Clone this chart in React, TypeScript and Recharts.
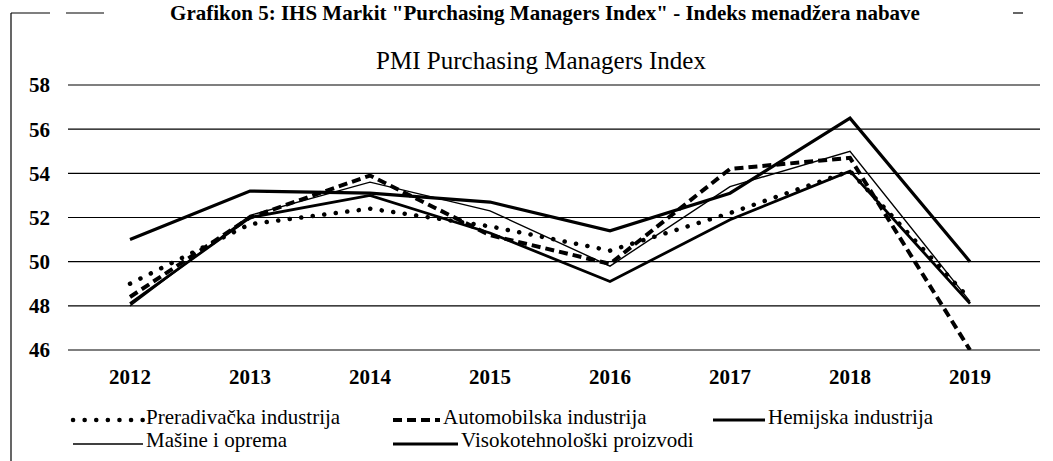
import React from 'react';
import { LineChart, Line, XAxis, YAxis, CartesianGrid } from 'recharts';

const years = ['2012', '2013', '2014', '2015', '2016', '2017', '2018', '2019'];
const preradivacka = [49.0, 51.7, 52.4, 51.6, 50.5, 52.2, 54.1, 48.3];
const automobilska = [48.4, 52.0, 53.9, 51.2, 49.9, 54.2, 54.7, 46.0];
const hemijska = [48.1, 52.0, 53.0, 51.3, 49.1, 51.9, 54.1, 48.1];
const masine = [48.0, 52.1, 53.6, 52.3, 49.8, 53.4, 55.0, 48.2];
const visokotehnoloski = [51.0, 53.2, 53.1, 52.7, 51.4, 53.1, 56.5, 50.0];
const yTicks = [46, 48, 50, 52, 54, 56, 58];
const seriesNames = [
  'Preradivačka industrija',
  'Automobilska industrija',
  'Hemijska industrija',
  'Mašine i oprema',
  'Visokotehnološki proizvodi',
];
const chartTitle = 'PMI Purchasing Managers Index';
const figureTitle = 'Grafikon 5: IHS Markit "Purchasing Managers Index" - Indeks menadžera nabave';

const data = years.map((year, i) => ({
  year,
  p: preradivacka[i],
  a: automobilska[i],
  h: hemijska[i],
  m: masine[i],
  v: visokotehnoloski[i],
}));

const FONT = '"Liberation Serif", "Times New Roman", serif';

type StyleDef = { key: string; width: number; dash?: string; cap: 'round' | 'butt' };
const styles: StyleDef[] = [
  { key: 'p', width: 4.5, dash: '0.1 11.5', cap: 'round' },
  { key: 'a', width: 4, dash: '9 5', cap: 'butt' },
  { key: 'h', width: 2.8, cap: 'butt' },
  { key: 'm', width: 1.4, cap: 'butt' },
  { key: 'v', width: 3.2, cap: 'butt' },
];

// legend layout: [swatchStart, swatchEnd, textStart, rowIndex]
const legendLayout: [number, number, number, number][] = [
  [73, 143, 146, 0],
  [393, 440, 443, 0],
  [713, 765, 768, 0],
  [73, 143, 146, 1],
  [393, 458, 461, 1],
];
const rowLineY = [420, 444];
const rowTextTop = [407, 430];

export default function App() {
  return (
    <div
      style={{
        position: 'absolute',
        left: 0,
        top: 0,
        width: 1053,
        height: 461,
        overflow: 'hidden',
        background: '#fff',
        fontFamily: FONT,
        color: '#000',
      }}
    >
      <div
        style={{
          position: 'absolute',
          top: 1,
          left: 545,
          transform: 'translateX(-50%)',
          whiteSpace: 'nowrap',
          fontSize: 21,
          lineHeight: 'normal',
          fontWeight: 'bold',
        }}
      >
        {figureTitle}
      </div>
      <div
        style={{
          position: 'absolute',
          top: 48,
          left: 541,
          transform: 'translateX(-50%)',
          whiteSpace: 'nowrap',
          fontSize: 25,
          lineHeight: '25px',
        }}
      >
        {chartTitle}
      </div>

      <svg width={1053} height={461} style={{ position: 'absolute', left: 0, top: 0 }}>
        <line x1={11} y1={13} x2={11} y2={461} stroke="#000" strokeWidth={1.2} />
        <line x1={11} y1={13} x2={50} y2={13} stroke="#000" strokeWidth={1.2} />
        <line x1={66} y1={13} x2={104} y2={13} stroke="#000" strokeWidth={1.2} />
        <line x1={1013} y1={13} x2={1023} y2={13} stroke="#000" strokeWidth={1.2} />
        {legendLayout.map(([x1, x2, , row], i) => (
          <line
            key={i}
            x1={x1}
            x2={x2}
            y1={rowLineY[row]}
            y2={rowLineY[row]}
            stroke="#000"
            strokeWidth={styles[i].width}
            strokeDasharray={styles[i].dash}
            strokeLinecap={styles[i].cap}
          />
        ))}
      </svg>

      {legendLayout.map(([, , tx, row], i) => (
        <div
          key={i}
          style={{
            position: 'absolute',
            left: tx,
            top: rowTextTop[row],
            fontSize: 21,
            lineHeight: '21px',
            whiteSpace: 'nowrap',
          }}
        >
          {seriesNames[i]}
        </div>
      ))}

      <div style={{ position: 'absolute', left: 0, top: 0 }}>
        <LineChart
          width={1053}
          height={461}
          data={data}
          margin={{ top: 85, right: 13, bottom: 81, left: 0 }}
        >
          <CartesianGrid vertical={false} stroke="#000" strokeWidth={1.2} />
          <XAxis
            dataKey="year"
            padding={{ left: 62, right: 70 }}
            tickLine={false}
            axisLine={false}
            tickMargin={13}
            height={30}
            interval={0}
            tick={{ fontSize: 21, fontWeight: 'bold', fill: '#000', fontFamily: FONT }}
          />
          <YAxis
            domain={[46, 58]}
            ticks={yTicks}
            width={68}
            tickLine={false}
            axisLine={false}
            tickMargin={12}
            interval={0}
            allowDataOverflow
            tick={{ fontSize: 21, fontWeight: 'bold', fill: '#000', fontFamily: FONT }}
          />
          {styles.map((s, i) => (
            <Line
              key={s.key}
              type="linear"
              dataKey={s.key}
              name={seriesNames[i]}
              stroke="#000"
              strokeWidth={s.width}
              strokeDasharray={s.dash}
              strokeLinecap={s.cap}
              strokeLinejoin="miter"
              dot={false}
              activeDot={false}
              isAnimationActive={false}
            />
          ))}
        </LineChart>
      </div>
    </div>
  );
}
